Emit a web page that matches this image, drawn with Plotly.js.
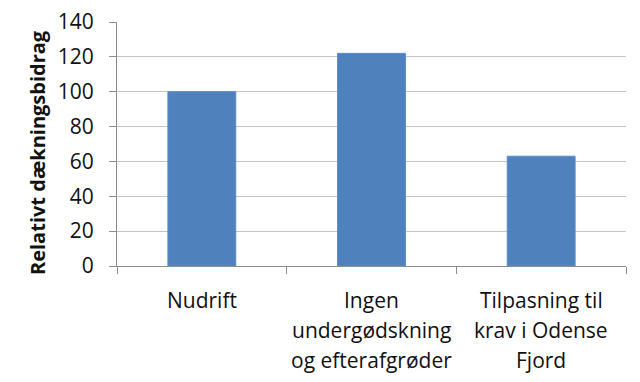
<!DOCTYPE html>
<html>
<head>
<meta charset="utf-8">
<script src="https://cdn.plot.ly/plotly-3.0.1.min.js"></script>
<style>html,body{margin:0;padding:0;background:#fff;}#chart{width:640px;height:382px;}</style>
</head>
<body>
<div id="chart"></div>
<script>
const categories = ["Nudrift", "Ingen undergødskning og efterafgrøder", "Tilpasning til krav i Odense Fjord"];
const categoryLines = [
  ["Nudrift"],
  ["Ingen", "undergødskning", "og efterafgrøder"],
  ["Tilpasning til", "krav i Odense", "Fjord"]
];
const values = [100, 122, 63];
const yTitle = "Relativt dækningsbidrag";
const yTicks = [0, 20, 40, 60, 80, 100, 120, 140];

const FONT = "'Open Sans', 'DejaVu Sans', sans-serif";
const annotations = [];
categories.forEach((c, i) => {
  categoryLines[i].forEach((line, j) => {
    annotations.push({
      x: c, xref: 'x', y: 0, yref: 'paper',
      yanchor: 'middle', xanchor: 'center',
      yshift: -(34 + j * 30),
      text: line, showarrow: false,
      font: {family: FONT, size: 21, color: '#111'}
    });
  });
});
annotations.push({
  x: 0, xref: 'paper', xshift: -80, xanchor: 'center',
  y: 0.5, yref: 'paper', yshift: -9, yanchor: 'middle',
  textangle: -90, text: '<b>' + yTitle + '</b>', showarrow: false,
  font: {family: FONT, size: 20, color: '#111'}
});

const data = [{
  type: 'bar', x: categories, y: values,
  marker: {color: '#4f81bd', line: {color: '#5b8cc6', width: 1}},
  hoverinfo: 'skip'
}];

const layout = {
  width: 640, height: 382,
  margin: {l: 117, r: 14, t: 22, b: 116},
  paper_bgcolor: '#fff', plot_bgcolor: '#fff',
  showlegend: false,
  bargap: 0.6,
  xaxis: {
    type: 'category', showticklabels: false,
    tickson: 'boundaries', ticks: 'outside', ticklen: 7, tickcolor: '#8c8c8c',
    showline: true, linecolor: '#8c8c8c', linewidth: 1,
    showgrid: false, zeroline: false
  },
  yaxis: {
    range: [0, 140], tickvals: yTicks, ticktext: yTicks.map(String),
    ticks: 'outside', ticklen: 7, tickcolor: '#8c8c8c',
    ticklabelstandoff: 11,
    showline: true, linecolor: '#8c8c8c', linewidth: 1,
    showgrid: true, gridcolor: '#c4c4c4', gridwidth: 1,
    zeroline: false,
    tickfont: {family: FONT, size: 21, color: '#111'}
  },
  annotations: annotations
};

Plotly.newPlot('chart', data, layout, {staticPlot: true, displayModeBar: false});
</script>
</body>
</html>
